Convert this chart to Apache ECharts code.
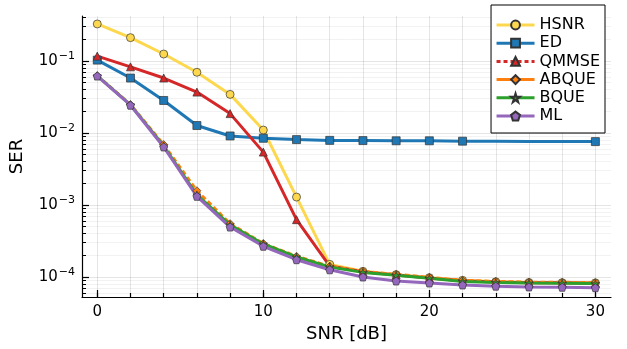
<!DOCTYPE html>
<html>
<head>
<meta charset="utf-8">
<script src="https://cdn.jsdelivr.net/npm/echarts@6.0.0/dist/echarts.min.js"></script>
<style>
html, body { margin: 0; padding: 0; background: #fff; }
#chart { width: 627px; height: 349px; }
</style>
</head>
<body>
<div id="chart"></div>
<script>
// SNR [dB]
var snr = [0, 2, 4, 6, 8, 10, 12, 14, 16, 18, 20, 22, 24, 26, 28, 30];

// SER per detector
var hsnr  = [0.327, 0.211, 0.125, 0.0697, 0.0344, 0.011, 0.00129, 0.00015, 0.00012, 0.000108, 0.000098, 0.00009, 0.000086, 0.000084, 0.0000835, 0.000083];
var ed    = [0.103, 0.058, 0.0283, 0.0127, 0.0091, 0.00845, 0.0081, 0.0079, 0.00785, 0.0078, 0.0078, 0.0077, 0.0077, 0.0076, 0.0076, 0.0076];
var qmmse = [0.117, 0.083, 0.058, 0.037, 0.0186, 0.00543, 0.000626, 0.000142, 0.000118, 0.000107, 0.000097, 0.000089, 0.0000855, 0.0000835, 0.000083, 0.000082];
var abque = [0.0625, 0.0248, 0.0069, 0.00158, 0.00055, 0.000292, 0.000194, 0.000141, 0.00012, 0.000109, 0.000099, 0.00009, 0.000087, 0.000085, 0.0000845, 0.0000835];
var bque  = [0.0622, 0.0246, 0.0066, 0.00138, 0.00053, 0.000288, 0.00019, 0.000138, 0.000116, 0.000106, 0.000096, 0.000087, 0.000084, 0.0000826, 0.000082, 0.000081];
var ml    = [0.0618, 0.0243, 0.0064, 0.00132, 0.000494, 0.000267, 0.000174, 0.000126, 0.0001, 0.000088, 0.0000826, 0.0000775, 0.0000745, 0.0000728, 0.000072, 0.000071];

// ED has no marker drawn at these SNRs in the original
var edNoMarker = [24, 26, 28];

// tick labels
var xTicks = [0, 10, 20, 30];
var xMinorTicks = [0, 2, 4, 6, 8, 10, 12, 14, 16, 18, 20, 22, 24, 26, 28, 30];
var yTicks = [1e-4, 1e-3, 1e-2, 1e-1];

var yMinorTicks = [];
for (var e = -5; e <= -1; e++) {
  for (var k = 2; k <= 9; k++) yMinorTicks.push(k * Math.pow(10, e));
}

var FONT = 'DejaVu Sans';
var STAR = 'path://M50,0 L61.2,34.5 L97.6,34.5 L68.2,55.9 L79.4,90.5 L50,69.1 L20.6,90.5 L31.8,55.9 L2.4,34.5 L38.8,34.5 Z';
var PENT = 'path://M50,0 L97.6,34.5 L79.4,90.5 L20.6,90.5 L2.4,34.5 Z';

function pairs(ys, skip) {
  return snr.map(function (x, i) {
    var item = { value: [x, ys[i]] };
    if (skip && skip.indexOf(x) >= 0) item.symbol = 'none';
    return item;
  });
}

function mkSeries(name, ys, color, symbol, dashed, skip) {
  return {
    name: name,
    type: 'line',
    data: pairs(ys, skip),
    symbol: symbol,
    symbolSize: 8,
    showSymbol: true,
    showAllSymbol: true,
    lineStyle: { color: color, width: 3, type: dashed ? [5, 3] : 'solid' },
    itemStyle: { color: color, borderColor: '#333', borderWidth: 0.7 },
    emphasis: { disabled: true }
  };
}

var chart = echarts.init(document.getElementById('chart'));

var option = {
  animation: false,
  textStyle: { fontFamily: FONT },
  grid: { left: 79, right: 16, top: 16, bottom: 52, containLabel: false },
  legend: {
    orient: 'vertical',
    right: 22,
    top: 5,
    padding: [12, 5, 9, 4],
    itemGap: 2.2,
    itemWidth: 38,
    itemHeight: 11,
    borderColor: '#000',
    borderWidth: 1,
    backgroundColor: '#fff',
    lineStyle: { width: 3 },
    textStyle: { fontFamily: FONT, fontSize: 16, color: '#000' },
    data: [
      { name: 'HSNR' },
      { name: 'ED' },
      { name: 'QMMSE', lineStyle: { width: 3, type: [4, 3] } },
      { name: 'ABQUE', lineStyle: { width: 3, type: 'solid' } },
      { name: 'BQUE' },
      { name: 'ML' }
    ]
  },
  xAxis: [
    {
      type: 'value',
      min: -0.92,
      max: 30.94,
      name: 'SNR [dB]',
      nameLocation: 'middle',
      nameGap: 27,
      nameTextStyle: { fontFamily: FONT, fontSize: 18, color: '#000' },
      axisLine: { onZero: false, lineStyle: { color: '#000', width: 1.2 } },
      axisTick: { inside: true, length: 7, customValues: xTicks, lineStyle: { color: '#000', width: 1.2 } },
      axisLabel: { customValues: xTicks, margin: 8, fontFamily: FONT, fontSize: 15, color: '#000' },
      splitLine: { show: false }
    },
    {
      type: 'value',
      min: -0.92,
      max: 30.94,
      position: 'bottom',
      axisLine: { show: false, onZero: false },
      axisTick: { inside: true, length: 4, customValues: xMinorTicks, lineStyle: { color: '#000', width: 1.2 } },
      axisLabel: { show: false, customValues: xMinorTicks },
      splitLine: { show: true, lineStyle: { color: 'rgba(0,0,0,0.1)', width: 1 } }
    }
  ],
  yAxis: [
    {
      type: 'log',
      logBase: 10,
      min: 5.28e-5,
      max: 0.4217,
      name: 'SER',
      nameLocation: 'middle',
      nameGap: 56,
      nameTextStyle: { fontFamily: FONT, fontSize: 18, color: '#000' },
      axisLine: { show: true, onZero: false, lineStyle: { color: '#000', width: 1.2 } },
      axisTick: { show: true, inside: true, length: 7, customValues: yTicks, lineStyle: { color: '#000', width: 1.2 } },
      axisLabel: {
        customValues: yTicks,
        margin: 7,
        formatter: function (v) {
          return '{b|10}{s|\u2212' + Math.round(-Math.log10(v)) + '}';
        },
        rich: {
          b: { fontFamily: FONT, fontSize: 15, color: '#000', lineHeight: 20 },
          s: { fontFamily: FONT, fontSize: 11, color: '#000', verticalAlign: 'top', padding: [0, 0, 0, 1] }
        }
      },
      splitLine: { show: true, lineStyle: { color: 'rgba(0,0,0,0.1)', width: 1 } }
    },
    {
      type: 'log',
      logBase: 10,
      min: 5.28e-5,
      max: 0.4217,
      position: 'left',
      axisLine: { show: false, onZero: false },
      axisTick: { show: true, inside: true, length: 4, customValues: yMinorTicks, lineStyle: { color: '#000', width: 1 } },
      axisLabel: { show: false, customValues: yMinorTicks },
      splitLine: { show: true, lineStyle: { color: 'rgba(0,0,0,0.05)', width: 1 } }
    }
  ],
  series: [
    mkSeries('HSNR', hsnr, '#FDD84E', 'circle', false),
    mkSeries('ED', ed, '#1F77B4', 'rect', false, edNoMarker),
    mkSeries('QMMSE', qmmse, '#D62728', 'triangle', false),
    mkSeries('ABQUE', abque, '#FF7F0E', 'diamond', true),
    mkSeries('BQUE', bque, '#2CA02C', STAR, false),
    mkSeries('ML', ml, '#9467BD', PENT, false)
  ]
};

chart.setOption(option);
</script>
</body>
</html>
